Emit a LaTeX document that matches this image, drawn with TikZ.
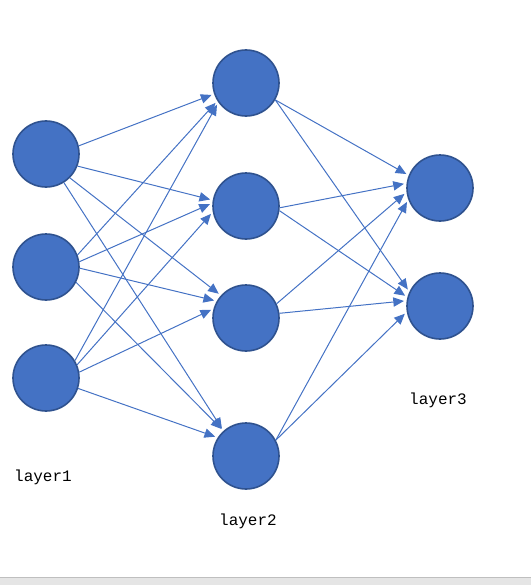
\documentclass[tikz,border=0pt]{standalone}
\usepackage{fontspec}
\setmonofont{Liberation Mono}
\usetikzlibrary{arrows.meta}
\definecolor{nodeblue}{HTML}{4472C4}
\definecolor{nodeedge}{HTML}{2F528F}
\tikzset{
  neuron/.style={circle,fill=nodeblue,draw=nodeedge,line width=1.2pt,minimum size=49.5pt,inner sep=0pt},
  link/.style={color=nodeblue,line width=0.75pt,shorten >=2pt,-{Triangle[length=8pt,width=7pt]}},
  lname/.style={font=\ttfamily\fontsize{12}{14}\selectfont,inner sep=0pt}
}
\begin{document}
\begin{tikzpicture}[x=0.75pt,y=-0.75pt]
\useasboundingbox (0,0) rectangle (531,585);
\fill [color=black!10] (0,577) rectangle (531,585);
\draw [line width=0.75pt,color=black!25] (0,577.5)-- (531,577.5);
% layer 1
\node [neuron] (a1) at (46,154) {};
\node [neuron] (a2) at (46,267) {};
\node [neuron] (a3) at (46,378) {};
% layer 2
\node [neuron] (b1) at (246,83) {};
\node [neuron] (b2) at (246,206) {};
\node [neuron] (b3) at (246,318) {};
\node [neuron] (b4) at (246,456) {};
% layer 3
\node [neuron] (c1) at (440,188) {};
\node [neuron] (c2) at (440,306) {};
% labels
\node [lname] (l1) at (43,477) {layer1};
\node [lname] (l2) at (248,521) {layer2};
\node [lname] (l3) at (438,400) {layer3};
% layer 1 -> layer 2
\draw [link] (a1.14) -- (b1.199);
\draw [link] (a1.-21) -- (b2.170);
\draw [link] (a1.-45) -- (b3.138);
\draw [link] (a1.-58) -- (b4.132);
\draw [link] (a2.21) -- (b1.212);
\draw [link] (a2.9) -- (b2.175);
\draw [link] (a2.-2) -- (b3.150);
\draw [link] (a2.-27) -- (b4.132);
\draw [link] (a3.31) -- (b1.215);
\draw [link] (a3.23) -- (b2.190);
\draw [link] (a3.10) -- (b3.164);
\draw [link] (a3.-18) -- (b4.147);
% layer 2 -> layer 3
\draw [link] (b1.-30) -- (c1.158);
\draw [link] (b1.-30) -- (c2.155);
\draw [link] (b2.-3) -- (c1.172);
\draw [link] (b2.-8) -- (c2.165);
\draw [link] (b3.25) -- (c1.187);
\draw [link] (b3.8) -- (c2.171);
\draw [link] (b4.28) -- (c1.200);
\draw [link] (b4.28) -- (c2.190);
\end{tikzpicture}
\end{document}
